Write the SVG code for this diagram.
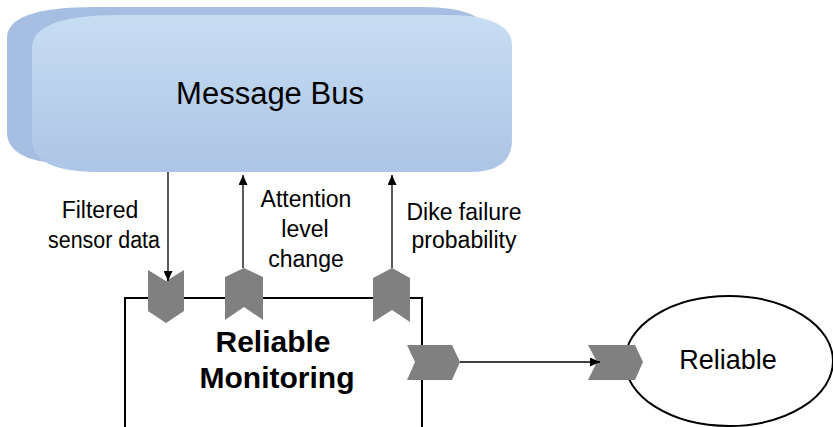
<svg xmlns="http://www.w3.org/2000/svg" width="833" height="427" viewBox="0 0 833 427">
<style>
.lbl{font-family:"Liberation Sans",Arial,sans-serif;font-size:23px;fill:#000;text-anchor:middle}
.port{fill:#808080;stroke:none}
.wire{stroke:#000;stroke-width:1.3;fill:none}
</style>
<defs>
<linearGradient id="busg" x1="0" y1="0" x2="0" y2="1">
<stop offset="0" stop-color="#c7ddf2"/>
<stop offset="1" stop-color="#adc5e6"/>
</linearGradient>
<marker id="ah" viewBox="0 0 10 10" refX="10" refY="5" markerWidth="10" markerHeight="9" markerUnits="userSpaceOnUse" orient="auto" preserveAspectRatio="none">
<path d="M0,0 L10,5 L0,10 Z" fill="#000"/>
</marker>
</defs>
<g id="bus">
<path d="M95,7 H422 Q490,7 490,40 V132 Q490,164 445,164 H75 Q7,164 7,132 V38 Q7,7 95,7 Z" fill="#a6bee2"/>
<path d="M120,15 H447 Q512,15 512,46 V140 Q512,172 470,172 H100 Q32,172 32,140 V48 Q32,15 120,15 Z" fill="url(#busg)"/>
<text x="270" y="104" font-family="Liberation Sans,Arial,sans-serif" font-size="31" text-anchor="middle">Message Bus</text>
</g>
<g id="monitoring">
<path d="M125,427 V298 H422 V427" fill="#fff" stroke="#000" stroke-width="2"/>
<text x="273" y="352" font-family="Liberation Sans,Arial,sans-serif" font-size="30" font-weight="bold" text-anchor="middle">Reliable</text>
<text x="277" y="388" font-family="Liberation Sans,Arial,sans-serif" font-size="30" font-weight="bold" text-anchor="middle">Monitoring</text>
</g>
<g id="reliable">
<ellipse cx="729" cy="361" rx="104" ry="65" fill="#fff" stroke="#000" stroke-width="2"/>
<text x="728" y="369" font-family="Liberation Sans,Arial,sans-serif" font-size="27" text-anchor="middle">Reliable</text>
</g>
<g id="ports">
<polygon class="port" points="148,270 166,281 184,270 184,311 166,323 148,311"/>
<polygon class="port" points="225,277 244,268 263,277 263,320 244,307 225,320"/>
<polygon class="port" points="373,278 392,268 410,278 410,322 392,310 373,322"/>
<polygon class="port" points="407,345 452,345 460,362 452,380 407,380 415,362"/>
<polygon class="port" points="588,345 635,345 643,362 635,380 588,380 597,362"/>
</g>
<g id="connectors">
<line class="wire" x1="168" y1="172" x2="168" y2="281" marker-end="url(#ah)"/>
<line class="wire" x1="243" y1="268" x2="243" y2="175" marker-end="url(#ah)"/>
<line class="wire" x1="392" y1="268" x2="392" y2="175" marker-end="url(#ah)"/>
<line class="wire" x1="460" y1="362" x2="600" y2="362" marker-end="url(#ah)"/>
</g>
<g id="labels">
<text class="lbl" x="100" y="218">Filtered</text>
<text class="lbl" x="104" y="248" textLength="112" lengthAdjust="spacingAndGlyphs">sensor data</text>
<text class="lbl" x="306" y="207">Attention</text>
<text class="lbl" x="305" y="237">level</text>
<text class="lbl" x="306" y="267">change</text>
<text class="lbl" x="464" y="220">Dike failure</text>
<text class="lbl" x="464" y="248">probability</text>
</g>
</svg>
